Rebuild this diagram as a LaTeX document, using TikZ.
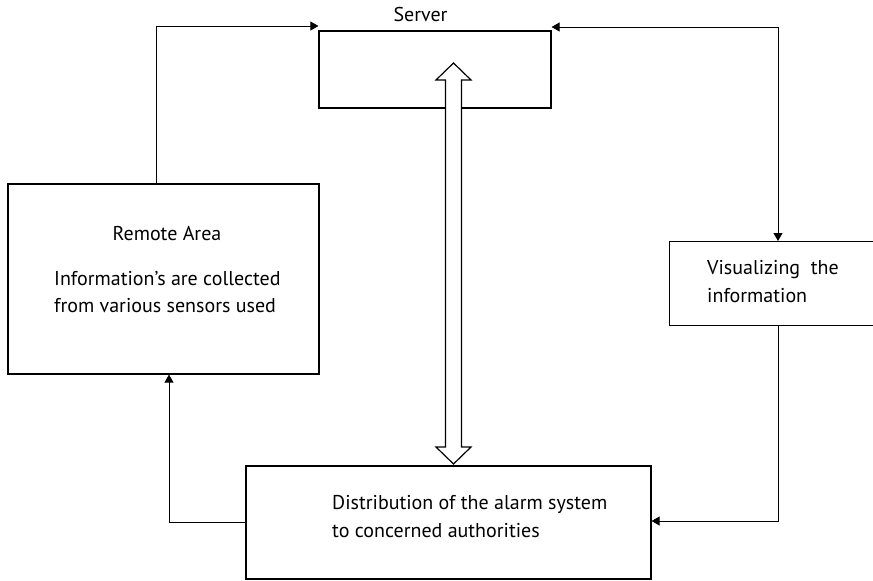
\documentclass[tikz,border=0pt]{standalone}
\usepackage{fontspec}
\setmainfont{PT Sans}
\usetikzlibrary{arrows.meta,calc}
\tikzset{
  box/.style={draw, line width=1.2pt, rectangle, inner sep=0pt},
  link/.style={line width=0.8pt, -{Triangle[length=8pt,width=9pt]}},
  txt/.style={inner sep=0pt, font=\fontsize{20}{22}\selectfont},
}
\begin{document}
\begin{tikzpicture}[x=1pt,y=-1pt]
\useasboundingbox (0,0) rectangle (873,581);
\clip (0,0) rectangle (873,581);

% boxes
\node[box, minimum width=232pt, minimum height=77pt] (server) at (435,69.5) {};
\node[box, minimum width=311pt, minimum height=190pt] (remote) at (163.5,279) {};
\node[box, minimum width=220pt, minimum height=84pt, anchor=north west] (visual) at (669,241) {};
\node[box, minimum width=405pt, minimum height=113pt] (dist) at (448.5,522.5) {};

% texts
\node[txt] (servertxt) at (420.5,14) {Server};
\node[txt] (remotetitle) at (167,234) {Remote Area};
\node[txt, align=left, anchor=west, font=\fontsize{20}{27}\selectfont] (remotetxt) at (54,292.5)
  {Information’s are collected\\from various sensors used};
\node[txt, align=left, anchor=west, font=\fontsize{20}{28}\selectfont] (visualtxt) at (707,282)
  {Visualizing\ \ the\\information};
\node[txt, align=left, anchor=west, font=\fontsize{20}{28}\selectfont] (disttxt) at (332,517)
  {Distribution of the alarm system\\to concerned authorities};

% connectors
\coordinate (c1) at (156,26);
\draw[link] (remote.north -| c1) -- (c1) -- (server.north west |- c1);
\coordinate (c2) at (778,27);
\draw[link] (c2) -- (server.north east |- c2);
\draw[link] (c2) -- (visual.north -| c2);
\coordinate (c3) at (778,521);
\draw[link] (visual.south -| c3) -- (c3) -- (dist.east |- c3);
\coordinate (c4) at (169,522);
\draw[link] (dist.west |- c4) -- (c4) -- (remote.south -| c4);

% two-headed block arrow between server and distribution
\coordinate (ta) at (453.5,63);
\coordinate (tb) at (453.5,464);
\draw[line width=1.2pt, fill=white]
  (ta) -- ++(17.5,17) -- ++(-9.5,0) -- ($(tb)+(8,-17)$) -- ++(9.5,0) -- (tb)
  -- ++(-17.5,-17) -- ++(9.5,0) -- ($(ta)+(-8,17)$) -- ++(-9.5,0) -- cycle;
\end{tikzpicture}
\end{document}
